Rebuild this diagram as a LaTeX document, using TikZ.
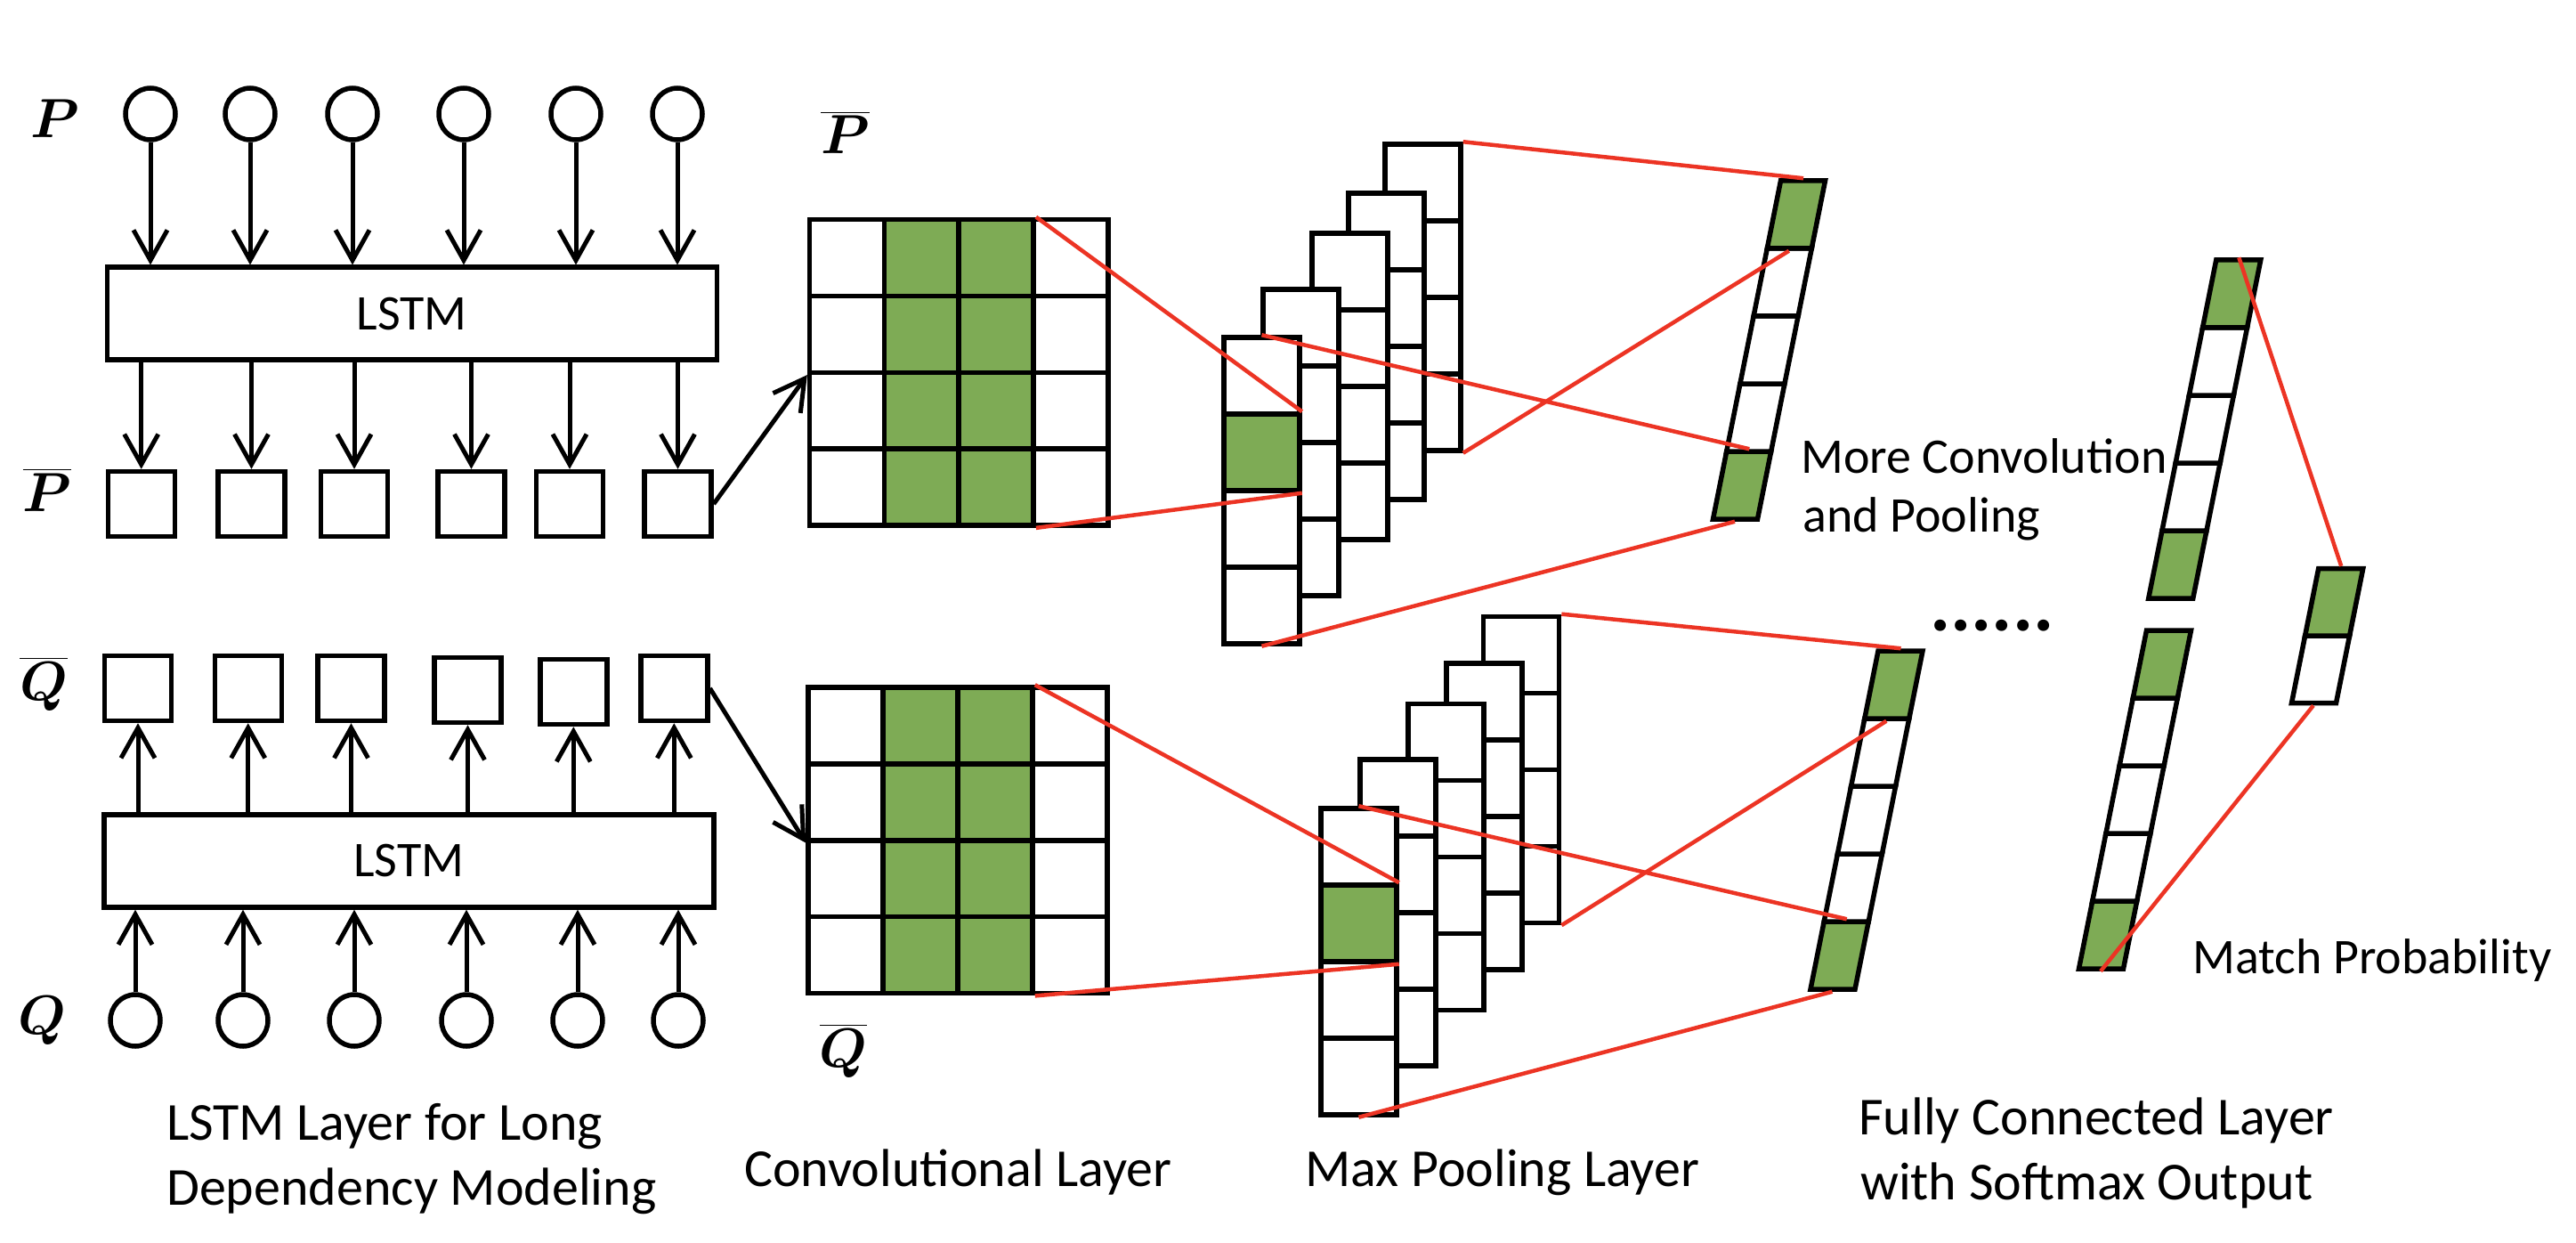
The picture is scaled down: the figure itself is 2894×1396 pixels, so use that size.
\RequirePackage{fix-cm}
\documentclass[tikz,border=0pt]{standalone}
\usepackage{amsmath}
\usepackage{bm}
\usepackage{fontspec}
\setmainfont{Carlito}
\usetikzlibrary{arrows.meta,shapes.geometric}
\definecolor{cgreen}{RGB}{126,171,85}
\definecolor{cred}{RGB}{236,52,36}
\begin{document}
\begin{tikzpicture}[x=1pt,y=-1pt,
  incirc/.style={ellipse, draw, line width=5.5pt, minimum width=56pt, minimum height=58pt, inner sep=0pt},
  vecbox/.style={rectangle, draw, line width=5.5pt, minimum width=75pt, minimum height=73pt, inner sep=0pt},
  lstmbox/.style={rectangle, draw, line width=5.5pt, minimum width=685pt, minimum height=104pt, inner sep=0pt, font=\fontsize{56}{60}\selectfont},
  gcell/.style={rectangle, draw, line width=5.5pt, minimum width=84pt, minimum height=86pt, inner sep=0pt},
  pcell/.style={rectangle, draw, line width=5.5pt, minimum width=85pt, minimum height=86pt, inner sep=0pt},
  fccell/.style={rectangle, draw, line width=5.5pt, minimum width=50pt, minimum height=76pt, inner sep=0pt, transform shape},
  arr/.style={line width=5pt, -{Straight Barb[length=34pt,width=38pt]}},
  redl/.style={draw=cred, line width=4.5pt},
  captxt/.style={font=\fontsize{60}{72}\selectfont, inner sep=0pt, anchor=base west},
  sidetxt/.style={font=\fontsize{56}{68}\selectfont, inner sep=0pt, anchor=base west},
  mlbl/.style={font=\fontsize{62}{72}\selectfont, inner sep=0pt, anchor=base}
]
\useasboundingbox (0,0) rectangle (2894,1396);

% ---------- labels P, Q ----------
\node[mlbl] (lblP) at (62,155) {$\bm{P}$};
\node[mlbl] (lblPb) at (53,574) {$\overline{\bm{P}}$};
\node[mlbl] (lblQb) at (49,786) {$\overline{\bm{Q}}$};
\node[mlbl] (lblQ) at (47.5,1161) {$\bm{Q}$};
\node[mlbl] (lblPbg) at (949.5,173) {$\overline{\bm{P}}$};
\node[mlbl] (lblQbg) at (947.5,1198) {$\overline{\bm{Q}}$};

% ---------- LSTM part P ----------
\foreach \n/\x in {1/169,2/281,3/396,4/521,5/647,6/761}
  \node[incirc] (pc\n) at (\x,128) {};
\node[lstmbox] (lstmP) at (462.75,352.25) {LSTM};
\foreach \n/\x in {1/158.75,2/282.5,3/398,4/529.5,5/640,6/761.5}
  \node[vecbox] (pb\n) at (\x,566) {};

% ---------- LSTM part Q ----------
\foreach \n/\x/\y in {1/155/773,2/278.75/773,3/394.5/773,4/525.5/775,5/644.3/777,6/757.3/773}
  \node[vecbox] (qb\n) at (\x,\y) {};
\node[lstmbox] (lstmQ) at (459.25,967) {LSTM};
\foreach \n/\x in {1/152,2/273,3/398,4/524,5/649,6/762}
  \node[incirc] (qc\n) at (\x,1146) {};

\foreach \n in {1,...,6}{
  \draw[arr] (pc\n.south) -- (pc\n.south |- lstmP.north);
  \draw[arr] (lstmP.south -| pb\n.north) -- (pb\n.north);
  \draw[arr] (lstmQ.north -| qb\n.south) -- (qb\n.south);
  \draw[arr] (qc\n.north) -- (qc\n.north |- lstmQ.south);
}

% ---------- convolution grids ----------
\foreach \i in {1,...,4}{
  \foreach \j/\f in {1/white,2/cgreen,3/cgreen,4/white}{
    \node[gcell, fill=\f] (gP-\i-\j) at ({909.7+83.8*(\j-0.5)},{246.5+85.9*(\i-0.5)}) {};
    \node[gcell, fill=\f] (gQ-\i-\j) at ({908+84*(\j-0.5)},{772+85.9*(\i-0.5)}) {};
  }
}
\draw[arr] (pb6.east) -- (gP-2-1.south west);
\draw[arr] (qb6.east) -- (gQ-2-1.south west);

% ---------- pooling stacks ----------
\foreach \k/\lx/\ty in {5/1556/162,4/1515/217,3/1474/262,2/1419/325,1/1375/379}{
  \foreach \i in {1,...,4}{
    \def\cf{white}
    \ifnum\k=1 \ifnum\i=2 \def\cf{cgreen}\fi\fi
    \node[pcell, fill=\cf] (pP\k-\i) at ({\lx+42.5},{\ty+43+86*(\i-1)}) {};
  }
}
\foreach \k/\lx/\ty in {5/1666.6/692.4,4/1625/745,3/1582/790.5,2/1528/853,1/1484/908}{
  \foreach \i in {1,...,4}{
    \def\cf{white}
    \ifnum\k=1 \ifnum\i=2 \def\cf{cgreen}\fi\fi
    \node[pcell, fill=\cf] (qP\k-\i) at ({\lx+42.5},{\ty+43+86*(\i-1)}) {};
  }
}

% ---------- slanted vectors ----------
\begin{scope}[shift={(1949.5,583)}, xslant=0.2]
  \foreach \i/\f in {0/cgreen,1/white,2/white,3/white,4/cgreen}
    \node[fccell, fill=\f] (fP\i) at (0,{-38-76*\i}) {};
\end{scope}
\begin{scope}[shift={(2059,1111)}, xslant=0.2]
  \foreach \i/\f in {0/cgreen,1/white,2/white,3/white,4/cgreen}
    \node[fccell, fill=\f] (fQ\i) at (0,{-38-76*\i}) {};
\end{scope}
\begin{scope}[shift={(2438.75,672)}, xslant=0.2]
  \foreach \i/\f in {0/cgreen,1/white,2/white,3/white,4/cgreen}
    \node[fccell, fill=\f] (rA\i) at (0,{-38-76*\i}) {};
\end{scope}
\begin{scope}[shift={(2360.5,1088)}, xslant=0.2]
  \foreach \i/\f in {0/cgreen,1/white,2/white,3/white,4/cgreen}
    \node[fccell, fill=\f] (rB\i) at (0,{-38-76*\i}) {};
\end{scope}
\begin{scope}[shift={(2599.5,789.6)}, xslant=0.2]
  \foreach \i/\f in {0/white,1/cgreen}
    \node[fccell, minimum height=75.5pt, fill=\f] (out\i) at (0,{-37.75-75.5*\i}) {};
\end{scope}

% ---------- red connectors ----------
\draw[redl] (gP-1-3.north east) -- (pP1-2.north east);
\draw[redl] (gP-4-3.south east) -- (pP1-2.south east);
\draw[redl] (pP1-1.north) -- (fP0.north);
\draw[redl] (pP5-4.south east) -- (fP4.south);
\draw[redl] (pP5-1.north east) -- (fP4.north);
\draw[redl] (pP1-4.south) -- (fP0.south);

\draw[redl] (gQ-1-3.north east) -- (qP1-2.north east);
\draw[redl] (gQ-4-3.south east) -- (qP1-2.south east);
\draw[redl] (qP1-1.north) -- (fQ0.north);
\draw[redl] (qP5-4.south east) -- (fQ4.south);
\draw[redl] (qP5-1.north east) -- (fQ4.north);
\draw[redl] (qP1-4.south) -- (fQ0.south);

\draw[redl] (rA4.north) -- (out1.north);
\draw[redl] (out0.south) -- (rB0.south);

% ---------- texts ----------
\node[captxt] (capLSTM1) at (187,1280) {LSTM Layer for Long};
\node[captxt] (capLSTM2) at (187,1353) {Dependency Modeling};
\node[captxt] (capConv) at (836,1332) {Convolutional Layer};
\node[captxt] (capPool) at (1466,1332) {Max Pooling Layer};
\node[captxt] (capFC1) at (2088,1274) {Fully Connected Layer};
\node[captxt] (capFC2) at (2090,1347) {with Softmax Output};
\node[sidetxt] (moreA) at (2023,531) {More Convolution};
\node[sidetxt] (moreB) at (2025,597) {and Pooling};
\node[sidetxt] (matchp) at (2463,1093) {Match Probability};
\node[font=\fontsize{87}{87}\selectfont\bfseries, inner sep=0pt, anchor=base west] (dots) at (2168,708) {......};
\end{tikzpicture}
\end{document}
